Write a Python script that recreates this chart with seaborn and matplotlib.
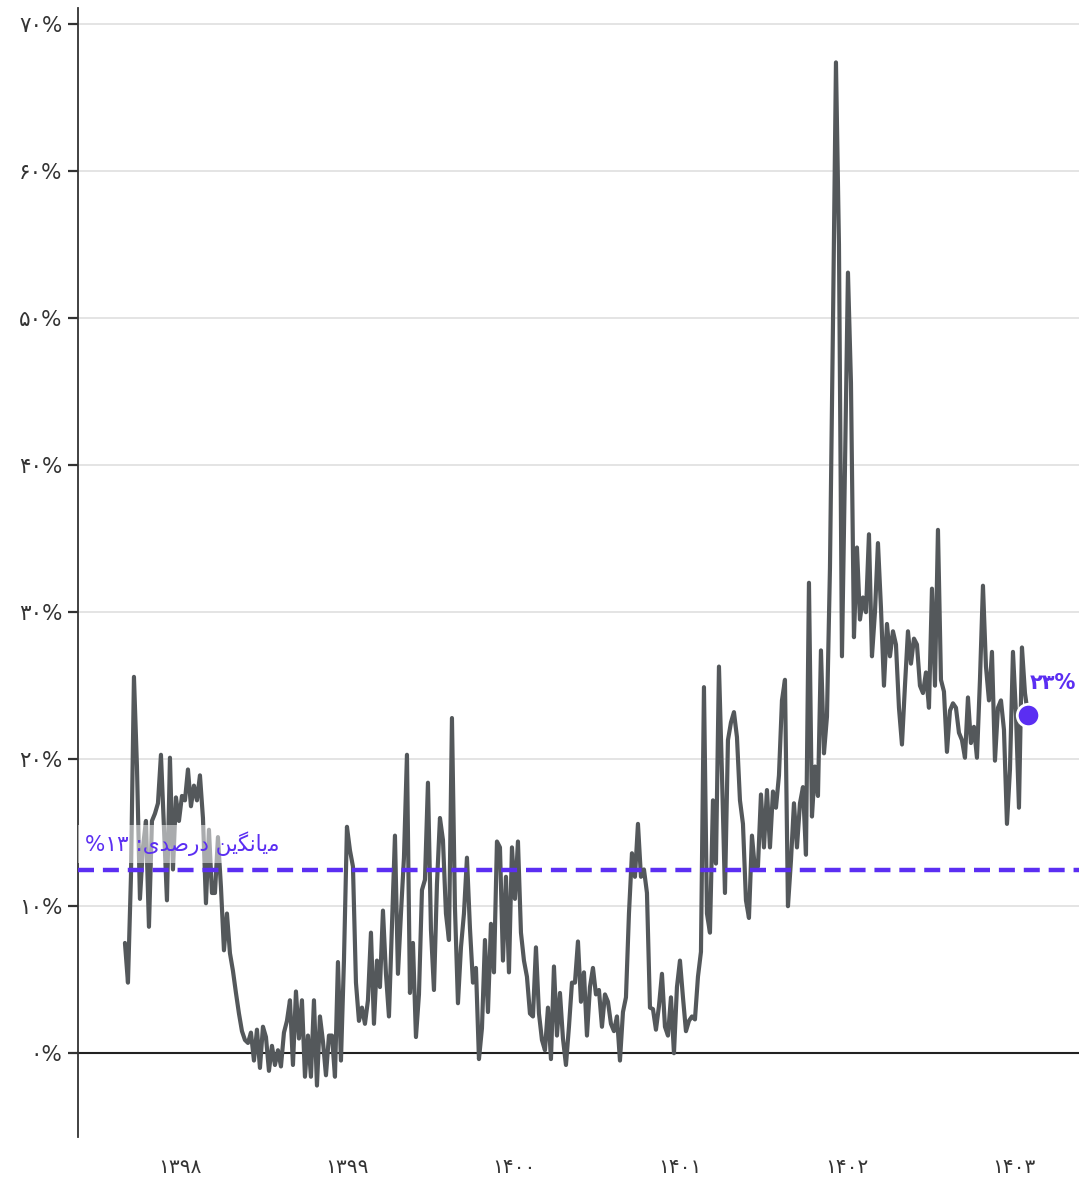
import numpy as np
import pandas as pd
import matplotlib
matplotlib.use("Agg")
import matplotlib.pyplot as plt
import seaborn as sns

# Persian calendar, evenly spaced samples from mid 1397 to early 1403
start_year = 1397.67
end_year = 1403.084

values = [
    # 1397-1398
    7.5, 4.8, 12.0, 25.6, 19.5, 10.5, 14.0, 15.8, 8.6, 15.8,
    16.3, 17.0, 20.3, 15.4, 10.4, 20.1, 12.5, 17.4, 15.8, 17.5,
    17.2, 19.3, 16.8, 18.2, 17.2, 18.9, 16.0, 10.2, 15.2, 10.9,
    10.9, 14.7, 11.3, 7.0, 9.5, 6.8, 5.6, 4.1, 2.7, 1.5,
    0.9, 0.7, 1.4, -0.5, 1.6, -1.0, 1.8,
    # 1398-1399
    1.1, -1.2, 0.5, -0.8, 0.2, -0.9, 1.4, 2.2, 3.6, -0.8,
    4.2, 1.0, 3.6, -1.6, 1.2, -1.6, 3.6, -2.2, 2.5, 0.8,
    -1.5, 1.2, 1.2, -1.6, 6.2, -0.5, 6.3, 15.4, 13.8, 12.7,
    4.8, 2.2, 3.1, 2.0, 3.6, 8.2, 2.0, 6.3, 4.5, 9.7,
    5.4, 2.5, 8.6, 14.8, 5.4, 9.5, 13.3, 20.3, 4.1, 7.5,
    1.1, 4.0,
    # 1399-1400
    11.1, 11.8, 18.4, 8.4, 4.3, 11.5, 16.0, 14.5, 9.5, 7.7,
    22.8, 9.9, 3.4, 7.2, 9.5, 13.3, 8.5, 4.8, 5.8, -0.4,
    1.7, 7.7, 2.8, 8.8, 5.5, 14.4, 14.0, 6.3, 12.0, 5.5,
    14.0, 10.5, 14.4, 8.2, 6.3, 5.2, 2.7, 2.5, 7.2, 2.7,
    0.9, 0.2, 3.1, -0.4, 5.9, 1.2, 4.1, 1.0, -0.8, 1.8,
    # 1400-1401
    4.8, 4.8, 7.6, 3.5, 5.5, 1.2, 4.5, 5.8, 4.0, 4.3,
    1.8, 4.0, 3.5, 2.0, 1.5, 2.5, -0.5, 2.8, 3.8, 9.5,
    13.6, 12.0, 15.6, 12.0, 12.5, 10.9, 3.1, 3.0, 1.6, 3.2,
    5.4, 1.8, 1.2, 3.8, 0.0, 4.5, 6.3, 3.8, 1.5, 2.2,
    2.5, 2.3, 5.2, 6.9, 24.9, 9.5,
    # 1401-1402
    8.2, 17.2, 12.9, 26.3, 19.0, 10.9, 21.3, 22.5, 23.2, 21.5,
    17.2, 15.6, 10.4, 9.2, 14.8, 12.5, 12.7, 17.6, 14.0, 17.9,
    14.0, 17.8, 16.7, 18.9, 24.0, 25.4, 10.0, 13.1, 17.0, 14.0,
    17.0, 18.1, 13.5, 32.0, 16.1, 19.5, 17.5, 27.4, 20.4, 22.9,
    # 1402-1403
    33.0, 49.5, 67.4, 55.0, 27.0, 39.8, 53.1, 45.6, 28.3, 34.4,
    29.5, 31.0, 30.0, 35.3, 27.0, 30.0, 34.7, 30.3, 25.0, 29.2,
    27.0, 28.7, 27.8, 23.5, 21.0, 25.0, 28.7, 26.5, 28.2, 27.8,
    25.0, 24.5, 25.9, 23.5, 31.6, 25.0, 35.6, 25.4, 24.6, 20.5,
    23.3, 23.8, 23.5, 21.8, 21.3, 20.1, 24.2, 21.1, 22.2, 20.1,
    25.4, 31.8, 26.3, 24.0, 27.3, 19.9, 23.5, 24.0, 22.0, 15.6,
    19.3, 27.3, 23.1, 16.7, 27.6, 24.5, 23.0,
]

mean_value = 12.45
last_value = 23
year_ticks = [1398, 1399, 1400, 1401, 1402, 1403]
pct_ticks = [0, 10, 20, 30, 40, 50, 60, 70]

line_color = "#54585b"
purple = "#5b2ef2"

fa_digits = str.maketrans("0123456789", "۰۱۲۳۴۵۶۷۸۹")


def fa(n):
    return str(n).translate(fa_digits)


# "میانگین درصدی: ۱۳%" already shaped (presentation forms) and in visual order,
# matplotlib has no bidi / arabic shaping
word_mianegin = "\uFEE6\uFBFE\uFB95\uFEE7\uFE8E\uFBFE\uFEE3"
word_darsadi = "\uFBFC\uFEAA\uFEBB\uFEAD\uFEA9"
mean_label = "%" + fa(13) + " :" + word_darsadi + " " + word_mianegin

df = pd.DataFrame({
    "year": np.linspace(start_year, end_year, len(values)),
    "pct": values,
})

sns.set_theme(style="white")
plt.rcParams["font.family"] = ["DejaVu Sans"]

W, H = 1079, 1179
fig = plt.figure(figsize=(W / 100, H / 100), dpi=100)
ax = fig.add_axes([78 / W, 42 / H, 1 - 78 / W, 1129 / H])

sns.lineplot(data=df, x="year", y="pct", ax=ax, color=line_color,
             linewidth=3.0, zorder=3)
ax.lines[-1].set_solid_joinstyle("round")

ax.axhline(0, color="#222222", linewidth=1.5, zorder=2)
ax.axhline(mean_value, color=purple, linewidth=3.2,
           linestyle=(0, (3.6, 2.0)), zorder=6)

ax.text(1397.43, 13.75, mean_label, color=purple, fontsize=15.5,
        fontweight="medium", ha="left", va="baseline", zorder=5,
        bbox=dict(boxstyle="square,pad=0.3", fc="white", ec="none", alpha=0.5))

sns.scatterplot(x=[end_year], y=[last_value], ax=ax, s=260, color=purple,
                edgecolor="white", linewidth=2, zorder=7)
ax.text(end_year + 0.012, last_value + 2.2, fa(last_value) + "%", color=purple,
        fontsize=15, fontweight="bold", ha="left", va="center", zorder=7)

ax.set_xlim(1397.3885, 1403.39)
ax.set_ylim(-5.7, 71.1)
ax.set_xticks(year_ticks)
ax.set_xticklabels([fa(y) for y in year_ticks])
ax.set_yticks(pct_ticks)
ax.set_yticklabels([fa(p) + "%" for p in pct_ticks])
ax.set_xlabel("")
ax.set_ylabel("")

ax.yaxis.grid(True, color="#e2e2e2", linewidth=1.3, zorder=0)
ax.xaxis.grid(False)
ax.set_axisbelow(True)

for side in ["top", "right", "bottom"]:
    ax.spines[side].set_visible(False)
ax.spines["left"].set_color("#333333")
ax.spines["left"].set_linewidth(1.3)

ax.tick_params(axis="y", which="major", left=True, length=7.2, width=1.6,
               color="#333333", pad=4, labelsize=15.5, labelcolor="#333333")
ax.tick_params(axis="x", which="major", bottom=False, length=0, pad=15,
               labelsize=14.5, labelcolor="#333333")

fig.savefig("out.png", dpi=100)
